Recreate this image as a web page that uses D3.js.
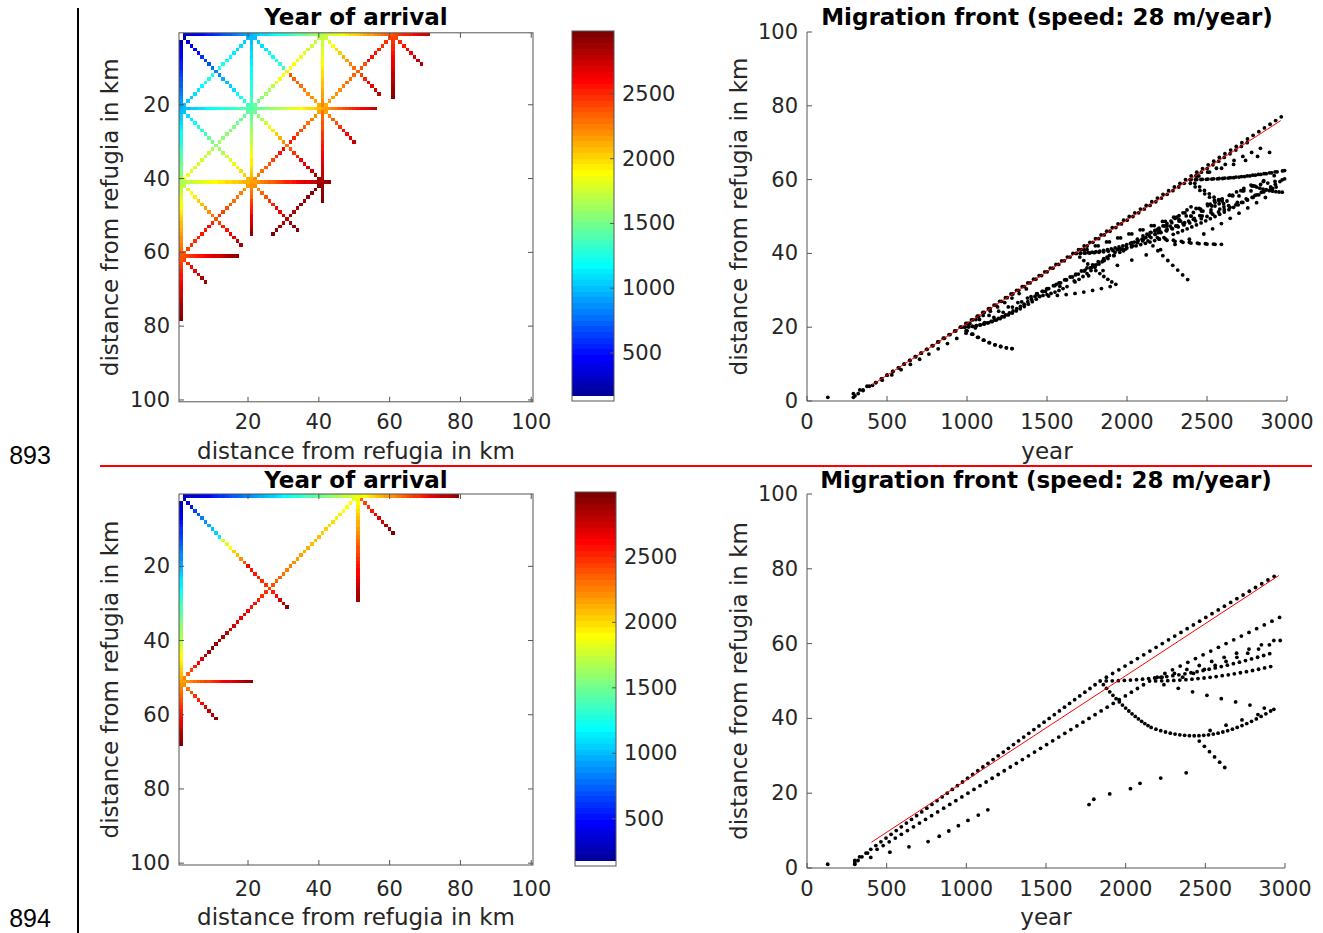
<!DOCTYPE html>
<html>
<head>
<meta charset="utf-8">
<script src="https://cdn.jsdelivr.net/npm/d3@7"></script>
<style>
  html, body { margin: 0; padding: 0; background: #fff; }
  svg { display: block; font-family: "DejaVu Sans", sans-serif; }
</style>
</head>
<body>
<svg id="fig" width="1323" height="933"></svg>
<script>
// ---------------------------------------------------------------------------
// Arrival years along colonisation paths, one entry per 1 km grid cell.
// Each path: [firstX, firstY, stepX, stepY, [years of successive cells]]
// (cell coordinates in km from the refugium, y counted downwards).
// ---------------------------------------------------------------------------

// upper simulation: straight edges of the grid
const upperEdgePaths = [
  [0, 0, 1, 0, [0,290,320,350,390,430,466,501,537,573,609,644,680,716,751,787,823,859,894,930,966,1001,1037,1073,1108,1144,1180,1216,1251,1287,1323,1358,1394,1430,1466,1501,1537,1573,1608,1644,1680,1715,1751,1787,1823,1858,1894,1930,1965,2001,2037,2073,2108,2144,2180,2215,2251,2287,2323,2358,2394,2430,2465,2501,2537,2573,2608,2644,2680,2715,2751]],
  [0, 1, 0, 1, [130,290,330,375,430,465,500,536,571,606,641,676,712,747,782,817,852,888,923,958,993,1028,1064,1099,1134,1169,1204,1240,1275,1310,1345,1380,1416,1451,1486,1521,1556,1592,1627,1662,1697,1732,1768,1803,1838,1873,1908,1944,1979,2014,2049,2084,2120,2155,2190,2225,2260,2296,2331,2366,2401,2436,2472,2507,2542,2577,2612,2648,2683,2718,2753,2788,2824,2859,2894,2929,2964]]
];

// upper simulation: interior rows and columns
const upperGridPaths = [
  [20, 1, 0, 1, [989,1012,1035,1058,1081,1104,1127,1150,1173,1196,1219,1242,1265,1288,1311,1334,1357,1380,1403]],
  [20, 21, 0, 1, [1437,1474,1511,1548,1585,1622,1659,1696,1733,1770,1807,1844,1881,1918,1955,1992,2029,2066,2103,2140]],
  [20, 41, 0, 1, [2195,2250,2305,2360,2415,2470,2525,2580,2635,2690,2745,2800,2855,2910]],
  [40, 1, 0, 1, [1709,1738,1767,1796,1825,1854,1883,1912,1941,1970,1999,2028,2057,2086,2115,2144,2173,2202,2231,2260,2289,2318,2347,2376,2405,2434,2463,2492,2521,2550,2579,2608,2637,2666,2695,2724,2753,2782,2811,2840,2869,2898,2927,2956,2985]],
  [60, 1, 0, 1, [2428,2462,2496,2530,2564,2598,2632,2666,2700,2734,2768,2802,2836,2870,2904,2938,2972]],
  [1, 20, 1, 0, [983,1008,1033,1058,1083,1108,1133,1158,1183,1208,1233,1258,1283,1308,1333,1358,1383,1408,1433]],
  [21, 20, 1, 0, [1435,1470,1505,1540,1575,1610,1645,1680,1715,1750,1785,1820,1855,1890,1925,1960,1995,2030,2065,2100]],
  [41, 20, 1, 0, [2145,2190,2235,2280,2325,2370,2415,2460,2505,2550,2595,2640,2685,2730,2775]],
  [1, 40, 1, 0, [1686,1710,1734,1758,1782,1806,1830,1854,1878,1902,1926,1950,1974,1998,2022,2046,2070,2094,2118]],
  [21, 40, 1, 0, [2176,2212,2248,2284,2320,2356,2392,2428,2464,2500,2536,2572,2608,2644,2680,2716,2752,2788,2824,2860,2896,2932]],
  [1, 60, 1, 0, [2401,2436,2471,2506,2541,2576,2611,2646,2681,2716,2751,2786,2821,2856,2891,2926]]
];

// upper simulation: diagonal paths
const upperDiagonalPaths = [
  [1, 1, 1, 1, [300,350,410,470,530,588,646,704,762,820,878,936,994,1052,1110,1168,1226,1284,1342,1400]],
  [21, 21, 1, 1, [1490,1580,1670,1760,1850,1940,2030,2120,2210,2300,2390,2480,2535,2590,2645,2700,2755,2810,2865,2920]],
  [19, 1, -1, 1, [1001,1036,1071,1106,1141,1176,1211,1246,1281]],
  [1, 19, 1, -1, [994,1030,1066,1102,1138,1174,1210,1246,1282]],
  [21, 1, 1, 1, [1011,1056,1101,1146,1191,1236,1281,1326,1371]],
  [39, 19, -1, -1, [2131,2162,2193,2224,2255,2286,2317,2348,2379,2410]],
  [39, 1, -1, 1, [1705,1730,1755,1780,1805,1830,1855,1880,1905,1930]],
  [21, 19, 1, -1, [1455,1510,1565,1620,1675,1730,1785,1840,1895]],
  [41, 1, 1, 1, [1750,1820,1890,1960,2030,2100,2170,2240,2310,2380,2450,2520,2590,2660,2730,2800]],
  [41, 19, 1, -1, [2125,2150,2175,2200,2225,2250,2275,2300,2325,2350,2375,2400]],
  [59, 1, -1, 1, [2424,2454,2484,2514,2544,2574,2604]],
  [61, 1, 1, 1, [2449,2504,2559,2614,2669,2724,2779,2834]],
  [1, 21, 1, 1, [1018,1078,1138,1198,1258,1318,1378,1438,1498,1558,1618,1678,1738,1798,1858,1918,1978,2038,2098]],
  [19, 21, -1, 1, [1425,1450,1475,1500,1525,1550,1575,1600,1625,1650,1675,1700,1725,1750,1775,1800,1825,1850,1875]],
  [39, 21, -1, 1, [2150,2200,2250,2300,2350,2400,2450,2500,2550,2600]],
  [21, 39, 1, -1, [2190,2240,2290,2340,2390,2440,2490,2540,2590]],
  [41, 21, 1, 1, [2175,2250,2325,2400,2475,2550,2625,2700,2775]],
  [1, 41, 1, 1, [1732,1802,1872,1942,2012,2082,2152,2222,2292,2362,2432,2502,2572,2642,2712,2782,2852]],
  [19, 41, -1, 1, [2175,2210,2245,2280,2315,2350,2385,2420,2455,2490,2525]],
  [1, 59, 1, -1, [2396,2426,2456,2486,2516,2546,2576,2606]],
  [21, 41, 1, 1, [2205,2270,2335,2400,2465,2530,2595,2660,2725,2790,2855,2920,2985]],
  [31, 49, 1, -1, [2810,2830,2850,2870,2890,2910,2930,2950,2970]],
  [29, 51, -1, 1, [2835,2880,2925,2970]],
  [1, 61, 1, 1, [2441,2516,2591,2666,2741,2816,2891]]
];

// lower simulation: straight edges, rows and columns
const lowerStraightPaths = [
  [0, 0, 1, 0, [0,300,320,345,370,400,432,464,496,528,560,592,624,656,688,720,752,784,816,848,880,912,944,976,1008,1040,1072,1104,1136,1168,1200,1232,1264,1296,1328,1360,1392,1424,1456,1488,1520,1552,1584,1616,1648,1680,1712,1744,1776,1808,1840,1879,1918,1957,1996,2035,2074,2113,2152,2191,2230,2269,2308,2347,2386,2425,2464,2503,2542,2581,2620,2659,2698,2737,2776,2815,2854,2893,2932]],
  [0, 1, 0, 1, [130,300,330,380,440,478,516,554,592,630,668,706,744,782,820,858,896,934,972,1010,1048,1086,1124,1162,1200,1238,1276,1314,1352,1390,1428,1466,1504,1542,1580,1618,1656,1694,1732,1770,1808,1846,1884,1922,1960,1998,2036,2074,2112,2150,2198,2246,2294,2342,2390,2438,2486,2534,2582,2630,2678,2726,2774,2822,2870,2918,2966]],
  [50, 1, 0, 1, [1878,1916,1954,1992,2030,2068,2106,2144,2182,2220,2258,2296,2334,2372,2410,2448,2486,2524,2562,2600,2638,2676,2714,2752,2790,2828,2866,2904]],
  [1, 50, 1, 0, [2188,2226,2264,2302,2340,2378,2416,2454,2492,2530,2568,2606,2644,2682,2720,2758,2796,2834,2872,2910]]
];

// lower simulation: diagonal paths
const lowerDiagonalPaths = [
  [1, 1, 1, 1, [300,400,520,640,760,830,890,950,1010,1075,1135,1770,1800,1900,2030,2090,2220,2380,2622,2590,2558,2526,2494,2462,2430,2530,2630,2730,2830,2930]],
  [49, 1, -1, 1, [1860,1880,1900,1920,1940,1960,1980,2000,2020,2040,2060,2080,2100,2120,2140,2160,2190,2220,2250,2280,2310,2340,2370,2400,2430,2460,2490,2520,2550,2580,2610,2640,2670,2700,2730,2760,2790,2820,2850,2880,2910]],
  [1, 49, 1, -1, [2240,2330,2420,2510,2600,2690,2780,2870]],
  [51, 1, 1, 1, [2358,2426,2494,2562,2630,2698,2766,2834,2902,2970]],
  [1, 51, 1, 1, [2228,2306,2384,2462,2540,2618,2696,2774,2852,2930]]
];

// axes, colour scale and fitted front
const gridTicks = [20, 40, 60, 80, 100];
const yearTicks = [0, 500, 1000, 1500, 2000, 2500, 3000];
const distanceTicks = [0, 20, 40, 60, 80, 100];
const colorbarTicks = [500, 1000, 1500, 2000, 2500];
const upperColorLimits = [129, 2986];
const lowerColorLimits = [140, 2995];
const frontYears = [405, 2961];
const upperFrontKm = [4.3, 76.0];
const lowerFrontKm = [6.9, 78.2];
const pageNumbers = ["893", "894"];
const mapTitle = "Year of arrival";
const frontTitle = "Migration front (speed: 28 m/year)";
const gridLabel = "distance from refugia in km";
const yearLabel = "year";

// ---------------------------------------------------------------------------
const svg = d3.select("#fig");
const INK = "#262626";
const AXIS = "#555555";
const TICK_FONT = 21, LABEL_FONT = 23, TITLE_FONT = 23;

// MATLAB-style jet(64) row i (1-based)
function jet64(i) {
  const r = i <= 24 ? 0 : i <= 40 ? (i - 24) / 16 : i <= 55 ? 1 : (72 - i) / 16;
  const g = i <= 8 ? 0 : i <= 24 ? (i - 8) / 16 : i <= 39 ? 1 : i <= 55 ? (56 - i) / 16 : 0;
  const b = i <= 8 ? (i + 8) / 16 : i <= 23 ? 1 : i <= 39 ? (40 - i) / 16 : 0;
  return d3.rgb(r * 255, g * 255, b * 255).formatHex();
}
// colour map: first slot white, then jet
function slotColor(j) { return j === 0 ? "#ffffff" : jet64(j + 1); }
function yearColor(v, lim) {
  let j = Math.floor((v - lim[0]) / (lim[1] - lim[0]) * 64);
  j = Math.max(0, Math.min(63, j));
  return slotColor(j);
}

function collectCells(paths) {
  const m = new Map();
  paths.forEach(([x0, y0, dx, dy, years]) => {
    years.forEach((yr, i) => {
      const x = x0 + i * dx, y = y0 + i * dy, key = x + "," + y;
      if (!m.has(key) || yr < m.get(key).year) m.set(key, { x, y, year: yr });
    });
  });
  return Array.from(m.values());
}

function text(g, x, y, str, opts = {}) {
  return g.append("text")
    .attr("x", x).attr("y", y)
    .attr("text-anchor", opts.anchor || "middle")
    .attr("dominant-baseline", "central")
    .attr("font-size", opts.size || TICK_FONT)
    .attr("font-weight", opts.weight || "normal")
    .attr("fill", opts.fill || INK)
    .text(str);
}

function drawPanel(cfg) {
  const cells = collectCells(cfg.paths);
  const g = svg.append("g");

  // ---- arrival map ----
  const hx = d3.scaleLinear([0.5, 100.5], [cfg.map.x0, cfg.map.x1]);
  const hy = d3.scaleLinear([0.5, 100.5], [cfg.map.y0, cfg.map.y1]);
  g.append("g").attr("shape-rendering", "crispEdges")
    .selectAll("rect").data(cells).join("rect")
    .attr("x", d => hx(d.x + 0.5))
    .attr("y", d => hy(d.y + 0.5))
    .attr("width", d => hx(d.x + 1.5) - hx(d.x + 0.5))
    .attr("height", d => hy(d.y + 1.5) - hy(d.y + 0.5))
    .attr("fill", d => yearColor(d.year, cfg.clim));

  const frame = g.append("g").attr("stroke", AXIS).attr("stroke-width", 1).attr("fill", "none");
  frame.append("rect").attr("x", cfg.map.x0).attr("y", cfg.map.y0)
    .attr("width", cfg.map.x1 - cfg.map.x0).attr("height", cfg.map.y1 - cfg.map.y0);
  gridTicks.forEach(t => {
    const px = hx(t), py = hy(t);
    frame.append("line").attr("x1", px).attr("x2", px).attr("y1", cfg.map.y1).attr("y2", cfg.map.y1 - 5);
    frame.append("line").attr("x1", px).attr("x2", px).attr("y1", cfg.map.y0).attr("y2", cfg.map.y0 + 5);
    frame.append("line").attr("y1", py).attr("y2", py).attr("x1", cfg.map.x0).attr("x2", cfg.map.x0 + 5);
    frame.append("line").attr("y1", py).attr("y2", py).attr("x1", cfg.map.x1).attr("x2", cfg.map.x1 - 5);
    text(g, px, cfg.tickRowY, t);
    text(g, cfg.map.x0 - 9, py, t, { anchor: "end" });
  });
  text(g, (cfg.map.x0 + cfg.map.x1) / 2, cfg.titleY, mapTitle, { size: TITLE_FONT, weight: "bold", fill: "#000" });
  text(g, (cfg.map.x0 + cfg.map.x1) / 2, cfg.labelRowY, gridLabel, { size: LABEL_FONT });
  text(g, 0, 0, gridLabel, { size: LABEL_FONT })
    .attr("transform", `translate(${cfg.mapLabelX},${(cfg.map.y0 + cfg.map.y1) / 2}) rotate(-90)`);

  // ---- colour bar ----
  const cy = d3.scaleLinear(cfg.clim, [cfg.bar.y1, cfg.bar.y0]);
  const slot = (cfg.clim[1] - cfg.clim[0]) / 64;
  g.append("g").attr("shape-rendering", "crispEdges")
    .selectAll("rect").data(d3.range(64)).join("rect")
    .attr("x", cfg.bar.x0).attr("width", cfg.bar.x1 - cfg.bar.x0)
    .attr("y", j => cy(cfg.clim[0] + (j + 1) * slot))
    .attr("height", j => cy(cfg.clim[0] + j * slot) - cy(cfg.clim[0] + (j + 1) * slot) + 0.5)
    .attr("fill", j => slotColor(j));
  g.append("rect").attr("x", cfg.bar.x0).attr("y", cfg.bar.y0)
    .attr("width", cfg.bar.x1 - cfg.bar.x0).attr("height", cfg.bar.y1 - cfg.bar.y0)
    .attr("fill", "none").attr("stroke", AXIS);
  colorbarTicks.forEach(t => {
    g.append("line").attr("x1", cfg.bar.x1).attr("x2", cfg.bar.x1 - 4)
      .attr("y1", cy(t)).attr("y2", cy(t)).attr("stroke", AXIS);
    text(g, cfg.bar.x1 + 8, cy(t), t, { anchor: "start" });
  });

  // ---- front position vs. year ----
  const sx = d3.scaleLinear([0, 3000], [cfg.plot.x0, cfg.plot.x1]);
  const sy = d3.scaleLinear([0, 100], [cfg.plot.y0, cfg.plot.y1]);
  const ax = g.append("g").attr("stroke", AXIS).attr("fill", "none");
  ax.append("line").attr("x1", sx(0)).attr("x2", sx(3000)).attr("y1", sy(0)).attr("y2", sy(0));
  ax.append("line").attr("x1", sx(0)).attr("x2", sx(0)).attr("y1", sy(0)).attr("y2", sy(100));
  yearTicks.forEach(t => {
    ax.append("line").attr("x1", sx(t)).attr("x2", sx(t)).attr("y1", sy(0)).attr("y2", sy(0) - 5);
    text(g, sx(t), cfg.tickRowY, t);
  });
  distanceTicks.forEach(t => {
    ax.append("line").attr("x1", sx(0)).attr("x2", sx(0) + 5).attr("y1", sy(t)).attr("y2", sy(t));
    text(g, sx(0) - 9, sy(t), t, { anchor: "end" });
  });
  const pts = cells.filter(d => d.year > 0);
  g.append("g").selectAll("circle").data(pts).join("circle")
    .attr("cx", d => sx(d.year))
    .attr("cy", d => sy(Math.hypot(d.x, d.y)))
    .attr("r", 1.9)
    .attr("fill", "#000");
  g.append("line")
    .attr("x1", sx(frontYears[0])).attr("y1", sy(cfg.front[0]))
    .attr("x2", sx(frontYears[1])).attr("y2", sy(cfg.front[1]))
    .attr("stroke", "#ff0000").attr("stroke-width", 1);
  text(g, (cfg.plot.x0 + cfg.plot.x1) / 2, cfg.titleY, frontTitle, { size: TITLE_FONT, weight: "bold", fill: "#000" });
  text(g, (cfg.plot.x0 + cfg.plot.x1) / 2, cfg.labelRowY, yearLabel, { size: LABEL_FONT });
  text(g, 0, 0, gridLabel, { size: LABEL_FONT })
    .attr("transform", `translate(${cfg.plotLabelX},${(cfg.plot.y0 + cfg.plot.y1) / 2}) rotate(-90)`);
}

drawPanel({
  paths: [...upperEdgePaths, ...upperGridPaths, ...upperDiagonalPaths],
  clim: upperColorLimits, front: upperFrontKm,
  map: { x0: 179, x1: 533, y0: 32.8, y1: 401.8 },
  bar: { x0: 572, x1: 614, y0: 31, y1: 401 },
  plot: { x0: 807, x1: 1287, y0: 401, y1: 32 },
  titleY: 17, tickRowY: 422, labelRowY: 451, mapLabelX: 110, plotLabelX: 739
});
drawPanel({
  paths: [...lowerStraightPaths, ...lowerDiagonalPaths],
  clim: lowerColorLimits, front: lowerFrontKm,
  map: { x0: 179, x1: 533, y0: 494, y1: 865 },
  bar: { x0: 575, x1: 616, y0: 492, y1: 866 },
  plot: { x0: 807, x1: 1285, y0: 868, y1: 494 },
  titleY: 480, tickRowY: 889, labelRowY: 917, mapLabelX: 110, plotLabelX: 739
});

// page furniture: margin rule, line numbers and separator
svg.append("line").attr("x1", 78).attr("x2", 78).attr("y1", 8).attr("y2", 933)
  .attr("stroke", "#000").attr("stroke-width", 2);
svg.append("line").attr("x1", 100).attr("x2", 1312).attr("y1", 466).attr("y2", 466)
  .attr("stroke", "#ff0000").attr("stroke-width", 2);
svg.selectAll("text.page").data(pageNumbers).join("text")
  .attr("class", "page")
  .attr("x", 30).attr("y", (d, i) => i === 0 ? 455 : 918)
  .attr("text-anchor", "middle")
  .attr("dominant-baseline", "central")
  .attr("font-family", "'Liberation Sans', 'Open Sans', sans-serif")
  .attr("font-size", 25).attr("fill", "#000")
  .text(d => d);
</script>
</body>
</html>
